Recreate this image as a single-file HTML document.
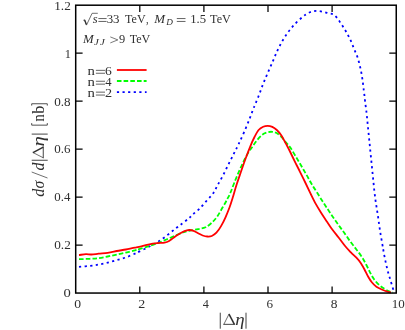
<!DOCTYPE html>
<html><head><meta charset="utf-8"><style>
html,body{margin:0;padding:0;background:#fff;}
svg{display:block;will-change:transform;font-family:"Liberation Serif",serif;}
</style></head><body>
<svg width="405" height="330" viewBox="0 0 405 330">
<rect width="405" height="330" fill="#fff"/>
<g fill="none" stroke-width="1.8" stroke-linejoin="round">
<path d="M79.0,266.8C80.8,266.6 86.2,266.3 89.5,265.9C92.8,265.5 95.6,265.2 98.6,264.6C101.6,264.1 104.7,263.4 107.7,262.6C110.7,261.9 113.8,261.0 116.8,260.1C119.8,259.2 122.9,258.5 125.9,257.4C128.9,256.3 132.8,254.6 135.0,253.6C137.2,252.6 136.9,252.7 139.1,251.6C141.3,250.5 145.2,248.8 148.2,247.2C151.2,245.6 154.3,244.2 157.3,242.3C160.3,240.4 163.4,238.2 166.4,235.9C169.4,233.6 172.8,230.7 175.5,228.6C178.2,226.5 180.4,224.9 182.7,223.2C185.0,221.4 187.4,219.5 189.1,218.1C190.8,216.7 190.9,216.2 192.7,214.5C194.5,212.8 197.6,210.6 200.0,208.2C202.4,205.8 205.0,202.6 207.3,200.0C209.6,197.4 211.9,195.2 213.6,192.7C215.3,190.2 216.1,187.9 217.7,185.0C219.3,182.1 221.4,178.5 223.2,175.0C225.0,171.5 226.8,167.7 228.6,164.1C230.4,160.5 232.4,156.5 234.1,153.2C235.8,149.9 236.9,147.6 238.6,144.1C240.2,140.6 242.2,136.5 244.0,132.3C245.8,128.1 248.0,123.0 249.5,119.1C251.0,115.2 252.2,111.7 253.2,109.1C254.2,106.5 254.4,106.3 255.5,103.7C256.6,101.1 258.2,97.1 259.5,93.7C260.8,90.3 261.9,86.9 263.3,83.5C264.7,80.1 266.1,76.7 267.6,73.2C269.1,69.8 270.7,66.2 272.2,62.8C273.7,59.4 275.0,56.0 276.5,52.6C278.0,49.2 279.6,46.0 281.4,42.7C283.2,39.5 285.2,36.1 287.4,33.1C289.6,30.1 292.0,27.2 294.5,24.5C297.0,21.8 300.5,18.7 302.6,16.9C304.8,15.1 305.8,14.5 307.4,13.6C309.0,12.7 310.6,11.9 312.3,11.5C314.0,11.1 315.9,10.8 317.7,10.9C319.5,11.0 321.4,11.4 323.2,11.8C325.0,12.2 326.9,12.9 328.6,13.3C330.3,13.8 331.9,13.7 333.3,14.5C334.8,15.3 336.1,16.8 337.3,18.2C338.5,19.6 339.3,21.1 340.4,22.7C341.4,24.3 342.6,26.0 343.6,27.6C344.6,29.2 345.6,30.8 346.5,32.4C347.4,34.0 348.3,35.6 349.1,37.3C349.9,39.0 350.8,40.7 351.5,42.4C352.2,44.1 352.9,45.9 353.6,47.6C354.3,49.3 354.9,50.9 355.6,52.5C356.3,54.1 357.0,55.8 357.6,57.5C358.2,59.2 358.6,60.9 359.1,62.7C359.6,64.5 360.0,66.4 360.4,68.2C360.8,70.0 361.2,71.8 361.5,73.6C361.8,75.4 362.1,77.3 362.4,79.1C362.7,80.9 362.9,82.6 363.1,84.5C363.3,86.4 363.6,88.5 363.8,90.4C364.0,92.3 364.3,94.2 364.5,96.0C364.7,97.8 364.8,98.8 365.1,101.5C365.4,104.2 366.1,108.8 366.5,112.4C366.9,116.0 367.2,119.6 367.6,123.3C368.0,127.0 368.3,130.8 368.7,134.5C369.1,138.2 369.4,141.8 369.8,145.5C370.2,149.2 370.5,153.0 370.9,156.7C371.3,160.4 371.6,163.9 372.0,167.6C372.4,171.3 372.7,175.0 373.1,178.7C373.5,182.4 373.8,185.9 374.2,189.6C374.6,193.3 375.1,197.3 375.6,201.0C376.1,204.7 376.8,208.3 377.3,211.9C377.9,215.5 378.4,219.2 378.9,222.8C379.4,226.4 379.9,230.1 380.5,233.7C381.1,237.3 381.9,241.7 382.4,244.6C382.9,247.5 383.0,248.2 383.5,251.0C384.0,253.8 384.8,258.1 385.5,261.4C386.2,264.6 386.9,267.6 387.6,270.5C388.4,273.4 389.1,275.7 390.0,278.6C390.9,281.5 392.0,285.5 392.7,287.7C393.4,289.9 393.8,291.0 394.0,291.7" stroke="#0000ff" stroke-dasharray="2.2 3.4"/>
<path d="M79.0,259.2C80.8,259.1 86.2,259.0 89.5,258.8C92.8,258.6 95.6,258.5 98.6,258.1C101.6,257.7 104.7,257.1 107.7,256.5C110.7,255.9 113.8,255.2 116.8,254.6C119.8,253.9 122.9,253.3 125.9,252.6C128.9,251.9 132.8,251.0 135.0,250.4C137.2,249.8 136.9,249.9 139.1,249.2C141.3,248.5 145.2,247.3 148.2,246.3C151.2,245.3 154.3,244.3 157.3,243.2C160.3,242.1 163.4,240.8 166.4,239.5C169.4,238.2 172.8,236.7 175.5,235.5C178.2,234.3 180.8,233.2 182.7,232.5C184.6,231.8 185.6,231.5 187.0,231.2C188.4,230.8 189.0,230.8 190.9,230.4C192.8,230.1 195.8,229.6 198.2,229.1C200.6,228.6 203.2,228.4 205.5,227.3C207.8,226.2 209.8,224.5 211.8,222.7C213.8,220.9 215.5,219.0 217.3,216.4C219.1,213.8 221.0,210.2 222.7,207.3C224.4,204.4 226.0,201.6 227.3,199.1C228.6,196.6 229.4,195.2 230.5,192.5C231.6,189.8 232.8,186.6 234.1,183.2C235.4,179.8 237.1,175.8 238.6,172.3C240.1,168.8 241.6,165.6 243.2,162.3C244.8,159.0 246.8,155.2 248.3,152.6C249.9,150.0 251.1,148.5 252.5,146.5C253.9,144.5 255.2,142.5 256.8,140.5C258.4,138.5 260.5,136.1 262.3,134.7C264.1,133.3 266.0,132.7 267.7,132.2C269.4,131.7 270.8,131.7 272.3,131.8C273.8,132.0 275.3,132.2 276.8,133.1C278.3,133.9 279.9,135.4 281.4,136.9C282.9,138.4 284.4,140.5 285.9,142.3C287.4,144.1 288.7,145.2 290.3,147.5C291.9,149.8 293.6,152.9 295.3,155.8C297.1,158.7 299.0,161.9 300.8,165.0C302.6,168.1 304.5,171.4 306.3,174.5C308.1,177.6 309.7,180.8 311.5,183.8C313.3,186.9 315.2,189.7 317.2,192.8C319.1,195.9 321.3,199.4 323.2,202.3C325.1,205.2 326.8,207.8 328.6,210.5C330.4,213.2 332.2,215.9 334.1,218.6C336.0,221.3 337.8,224.0 339.7,226.6C341.6,229.2 343.4,231.8 345.3,234.4C347.2,237.0 349.0,239.8 350.9,242.3C352.8,244.8 354.6,247.1 356.4,249.5C358.2,251.9 360.1,254.2 361.8,256.8C363.5,259.4 365.0,262.4 366.4,265.0C367.8,267.6 368.8,270.0 370.0,272.3C371.2,274.6 372.2,276.6 373.6,278.6C375.0,280.6 376.5,282.5 378.2,284.1C379.9,285.7 381.8,287.1 383.6,288.3C385.4,289.5 387.6,290.7 389.1,291.4C390.6,292.1 392.1,292.3 392.7,292.5" stroke="#00ff00" stroke-dasharray="4.6 2.1"/>
<path d="M79.0,255.0C80.2,254.9 83.8,254.3 85.9,254.2C88.0,254.1 89.3,254.6 91.4,254.5C93.5,254.4 95.9,254.0 98.6,253.7C101.3,253.4 104.7,253.2 107.7,252.8C110.7,252.4 113.8,251.6 116.8,251.0C119.8,250.4 122.9,250.1 125.9,249.5C128.9,248.9 132.8,248.0 135.0,247.6C137.2,247.2 136.9,247.3 139.1,246.8C141.3,246.3 145.2,245.2 148.2,244.6C151.2,244.0 154.6,243.5 157.3,243.2C160.0,242.9 162.5,243.0 164.5,242.6C166.5,242.2 167.6,241.8 169.1,241.0C170.6,240.2 171.9,238.8 173.6,237.7C175.3,236.5 177.3,235.2 179.1,234.1C180.9,233.0 182.8,231.9 184.5,231.2C186.2,230.5 187.6,230.1 189.1,230.0C190.6,229.9 192.1,230.3 193.6,230.9C195.1,231.5 196.7,232.5 198.2,233.3C199.7,234.1 201.2,235.0 202.7,235.5C204.2,236.0 205.8,236.4 207.3,236.5C208.8,236.6 210.3,236.6 211.8,236.0C213.3,235.4 214.9,234.3 216.4,232.7C217.9,231.1 219.4,229.0 220.9,226.4C222.4,223.8 224.1,220.5 225.5,217.3C226.9,214.2 228.3,210.7 229.5,207.5C230.7,204.3 231.4,201.9 232.6,198.0C233.8,194.1 235.3,188.6 236.8,184.0C238.3,179.4 239.9,174.9 241.4,170.5C242.9,166.1 244.4,161.7 245.9,157.7C247.4,153.7 248.9,149.8 250.3,146.3C251.7,142.9 253.1,139.7 254.5,137.0C255.9,134.3 257.2,131.7 258.6,130.0C260.1,128.3 261.7,127.4 263.2,126.7C264.7,126.0 266.2,125.8 267.7,125.8C269.2,125.8 270.8,126.2 272.3,126.9C273.8,127.6 275.3,128.6 276.8,130.0C278.3,131.4 279.9,133.2 281.4,135.5C282.9,137.8 284.5,141.1 285.9,143.6C287.2,146.1 288.1,147.6 289.5,150.5C290.9,153.4 292.8,157.3 294.5,160.9C296.2,164.5 298.2,168.1 300.0,171.8C301.8,175.5 303.7,179.3 305.5,183.0C307.3,186.7 309.0,190.3 310.7,193.8C312.4,197.3 314.1,200.9 315.9,204.1C317.7,207.3 319.6,210.3 321.4,213.2C323.2,216.1 325.0,218.7 326.8,221.4C328.6,224.1 330.3,226.8 332.3,229.5C334.3,232.2 336.4,234.7 338.6,237.5C340.8,240.3 343.4,244.0 345.5,246.5C347.6,249.0 349.1,250.4 350.9,252.3C352.7,254.2 354.7,255.9 356.4,257.7C358.1,259.5 359.5,261.2 360.9,263.2C362.2,265.2 363.3,267.2 364.5,269.5C365.7,271.8 367.0,274.7 368.2,276.8C369.4,278.9 370.4,280.6 371.8,282.3C373.2,284.0 374.7,285.6 376.4,286.8C378.1,288.0 380.0,288.7 381.8,289.5C383.6,290.3 385.8,291.2 387.3,291.7C388.8,292.2 390.4,292.4 391.0,292.5" stroke="#ff0000"/>
<path d="M116.9,70H146.6" stroke="#ff0000"/>
<path d="M116.9,81H146.6" stroke="#00ff00" stroke-dasharray="4.6 2.1"/>
<path d="M116.9,92.1H146.6" stroke="#0000ff" stroke-dasharray="2.2 3.4"/>
</g>
<g fill="none" stroke="#000" stroke-width="1.25">
<rect stroke-width="1.5" x="75.7" y="5.2" width="320.55" height="287.85"/>
<path d="M139.8,293.1v-6.7M139.8,5.2v6.7"/><path d="M203.9,293.1v-6.7M203.9,5.2v6.7"/><path d="M268.0,293.1v-6.7M268.0,5.2v6.7"/><path d="M332.1,293.1v-6.7M332.1,5.2v6.7"/><path d="M75.7,245.1h6.9M396.2,245.1h-6.9"/><path d="M75.7,197.1h6.9M396.2,197.1h-6.9"/><path d="M75.7,149.1h6.9M396.2,149.1h-6.9"/><path d="M75.7,101.1h6.9M396.2,101.1h-6.9"/><path d="M75.7,53.2h6.9M396.2,53.2h-6.9"/>
</g>
<g font-size="12" fill="#303030">
<path d="M83.3,20.4l1.2,-0.7l2,5.4l5.6,-11.8h5.7" fill="none" stroke="#303030" stroke-width="0.7"/><path d="M84.6,19.9l1.8,4.6" fill="none" stroke="#303030" stroke-width="1.3"/>
<path d="M220.25,312.7V328.7M246,312.7V328.7" stroke="#303030" stroke-width="0.9" fill="none"/>
<g fill="none" stroke="#303030" stroke-linecap="butt"><path d="M223.80,324.40L229.15,313.80" stroke-width="0.7"/><path d="M229.00,314.10L234.40,324.40" stroke-width="1.5"/><path d="M223.40,324.35H235.20" stroke-width="0.9"/></g>
<text transform="translate(74.18,308.20) scale(1.140,1)">0</text><text transform="translate(138.28,308.20) scale(1.169,1)">2</text><text transform="translate(202.77,308.20) scale(1.018,1)">4</text><text transform="translate(266.58,308.20) scale(1.093,1)">6</text><text transform="translate(330.68,308.20) scale(1.120,1)">8</text><text transform="translate(391.71,308.20) scale(1.086,1)">10</text><text transform="translate(63.39,297.40) scale(1.220,1)">0</text><text transform="translate(54.25,249.42) scale(1.103,1)">0.2</text><text transform="translate(54.26,201.45) scale(1.074,1)">0.4</text><text transform="translate(54.26,153.47) scale(1.083,1)">0.6</text><text transform="translate(54.25,105.50) scale(1.093,1)">0.8</text><text transform="translate(64.66,57.52) scale(1.035,1)">1</text><text transform="translate(54.19,9.55) scale(1.107,1)">1.2</text><text transform="translate(87.49,74.80) scale(1.227,1)">n</text><path d="M95.90,70.35H105.00M95.90,73.25H105.00" stroke="#303030" stroke-width="0.75" fill="none"/><text transform="translate(104.93,74.80) scale(1.132,1)">6</text><text transform="translate(87.49,85.70) scale(1.227,1)">n</text><path d="M95.90,81.25H105.00M95.90,84.15H105.00" stroke="#303030" stroke-width="0.75" fill="none"/><text transform="translate(105.24,85.70) scale(1.055,1)">4</text><text transform="translate(87.49,96.60) scale(1.227,1)">n</text><path d="M95.90,92.15H105.00M95.90,95.05H105.00" stroke="#303030" stroke-width="0.75" fill="none"/><text transform="translate(104.91,96.60) scale(1.190,1)">2</text><text transform="translate(92.78,23.00) scale(0.926,1)" font-style="italic" font-size="13.5">s</text><path d="M98.40,18.55H106.60M98.40,21.45H106.60" stroke="#303030" stroke-width="0.75" fill="none"/><text transform="translate(106.63,23.00) scale(1.076,1)">33</text><text transform="translate(125.05,23.00) scale(1.004,1)">TeV</text><text transform="translate(146.07,23.00) scale(0.857,1)">,</text><text transform="translate(154.14,23.00) scale(1.082,1)" font-style="italic">M</text><text transform="translate(166.14,24.70) scale(1.100,1)" font-style="italic" font-size="8.4">D</text><path d="M176.80,18.55H185.50M176.80,21.45H185.50" stroke="#303030" stroke-width="0.75" fill="none"/><text transform="translate(190.14,23.00) scale(1.059,1)">1.5</text><text transform="translate(210.05,23.00) scale(1.014,1)">TeV</text><text transform="translate(83.03,42.80) scale(1.073,1)" font-style="italic">M</text><text transform="translate(94.07,44.80) scale(1.300,1)" font-style="italic" font-size="8.4">J</text><text transform="translate(99.97,44.80) scale(1.300,1)" font-style="italic" font-size="8.4">J</text><path d="M110.30,36.90L117.80,39.90L110.30,42.90" stroke="#303030" stroke-width="0.65" fill="none"/><text transform="translate(118.91,42.90) scale(1.034,1)">9</text><text transform="translate(129.65,42.90) scale(1.009,1)">TeV</text><text transform="translate(235.28,324.80) scale(1.149,1)" font-style="italic" font-size="16.5">η</text>
<g transform="translate(43.7,0) rotate(-90)">
<path d="M-160.25,-12V4M-134.1,-12V4" stroke="#303030" stroke-width="0.9" fill="none"/>
<g fill="none" stroke="#303030" stroke-linecap="butt"><path d="M-157.80,-0.40L-152.40,-11.00" stroke-width="0.7"/><path d="M-152.55,-10.70L-147.10,-0.40" stroke-width="1.5"/><path d="M-158.20,-0.45H-146.30" stroke-width="0.9"/></g>
<text transform="translate(-196.79,0.00) scale(0.981,1)" font-style="italic" font-size="16.5">d</text><text transform="translate(-188.47,0.00) scale(0.948,1)" font-style="italic" font-size="16.5">σ</text><path d="M-178.00,3.80L-172.00,-12.00" stroke="#303030" stroke-width="0.7" fill="none"/><text transform="translate(-170.48,0.00) scale(0.968,1)" font-style="italic" font-size="16.5">d</text><text transform="translate(-146.49,0.00) scale(1.265,1)" font-style="italic" font-size="16.5">η</text><path d="M-123.10,-12.00H-125.15V3.60H-123.10" stroke="#303030" stroke-width="0.85" fill="none"/><text transform="translate(-121.62,0.00) scale(0.866,1)" font-size="16.5">n</text><text transform="translate(-113.80,0.00) scale(0.984,1)" font-size="16.5">b</text><path d="M-105.60,-12.00H-103.75V3.60H-105.60" stroke="#303030" stroke-width="0.85" fill="none"/>
</g>
</g>
</svg>
</body></html>
